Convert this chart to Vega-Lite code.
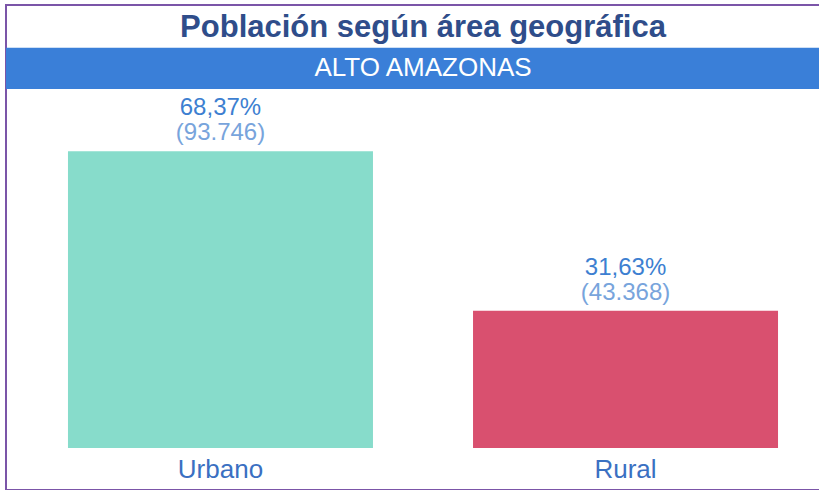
{
  "$schema": "https://vega.github.io/schema/vega-lite/v6.json",
  "width": 834,
  "height": 485,
  "autosize": "none",
  "padding": {"left": 6, "top": 5, "right": 0, "bottom": 0},
  "background": "white",
  "title": {
    "text": "Población según área geográfica",
    "anchor": "middle",
    "offset": -39,
    "font": "Liberation Sans",
    "fontSize": 31,
    "fontWeight": "bold",
    "color": "#2f4d8a"
  },
  "config": {"view": {"stroke": "#7b55a8", "strokeWidth": 2}},
  "data": {
    "values": [
      {"area": "Urbano", "pct": 68.37, "n": 93746, "pct_label": "68,37%", "n_label": "(93.746)"},
      {"area": "Rural", "pct": 31.63, "n": 43368, "pct_label": "31,63%", "n_label": "(43.368)"}
    ]
  },
  "encoding": {
    "x": {
      "field": "area",
      "type": "nominal",
      "sort": ["Urbano", "Rural"],
      "scale": {"domain": ["Urbano", "Rural"], "paddingInner": 0.247, "paddingOuter": 0.153},
      "axis": {
        "orient": "bottom",
        "offset": -42,
        "domain": false,
        "ticks": false,
        "labelPadding": 8,
        "labelAngle": 0,
        "labelFont": "Liberation Sans",
        "labelFontSize": 26,
        "labelColor": "#3a70c2",
        "title": null
      }
    }
  },
  "layer": [
    {
      "mark": {"type": "bar"},
      "encoding": {
        "y": {"field": "pct", "type": "quantitative", "scale": {"domain": [-9.68, 102.07], "nice": false, "zero": false}, "axis": null},
        "y2": {"datum": 0},
        "color": {"field": "area", "type": "nominal", "scale": {"domain": ["Urbano", "Rural"], "range": ["#87dccb", "#d9506f"]}, "legend": null}
      }
    },
    {
      "mark": {"type": "text", "baseline": "alphabetic", "dy": -36, "font": "Liberation Sans", "fontSize": 24, "color": "#3d7fd1"},
      "encoding": {
        "y": {"field": "pct", "type": "quantitative"},
        "text": {"field": "pct_label"}
      }
    },
    {
      "mark": {"type": "text", "baseline": "alphabetic", "dy": -11, "font": "Liberation Sans", "fontSize": 24, "color": "#78a4dc"},
      "encoding": {
        "y": {"field": "pct", "type": "quantitative"},
        "text": {"field": "n_label"}
      }
    },
    {
      "data": {"values": [{"band": "ALTO AMAZONAS", "top": 92.2, "bottom": 82.7, "mid": 87.45}]},
      "mark": {"type": "rect", "color": "#3a7fd8"},
      "encoding": {
        "x": null,
        "y": {"field": "top", "type": "quantitative"},
        "y2": {"field": "bottom"}
      }
    },
    {
      "data": {"values": [{"band": "ALTO AMAZONAS", "top": 92.2, "bottom": 82.7, "mid": 87.45}]},
      "mark": {"type": "text", "baseline": "middle", "font": "Liberation Sans", "fontSize": 26, "letterSpacing": -1, "color": "white"},
      "encoding": {
        "x": null,
        "y": {"field": "mid", "type": "quantitative"},
        "text": {"field": "band"}
      }
    }
  ]
}
